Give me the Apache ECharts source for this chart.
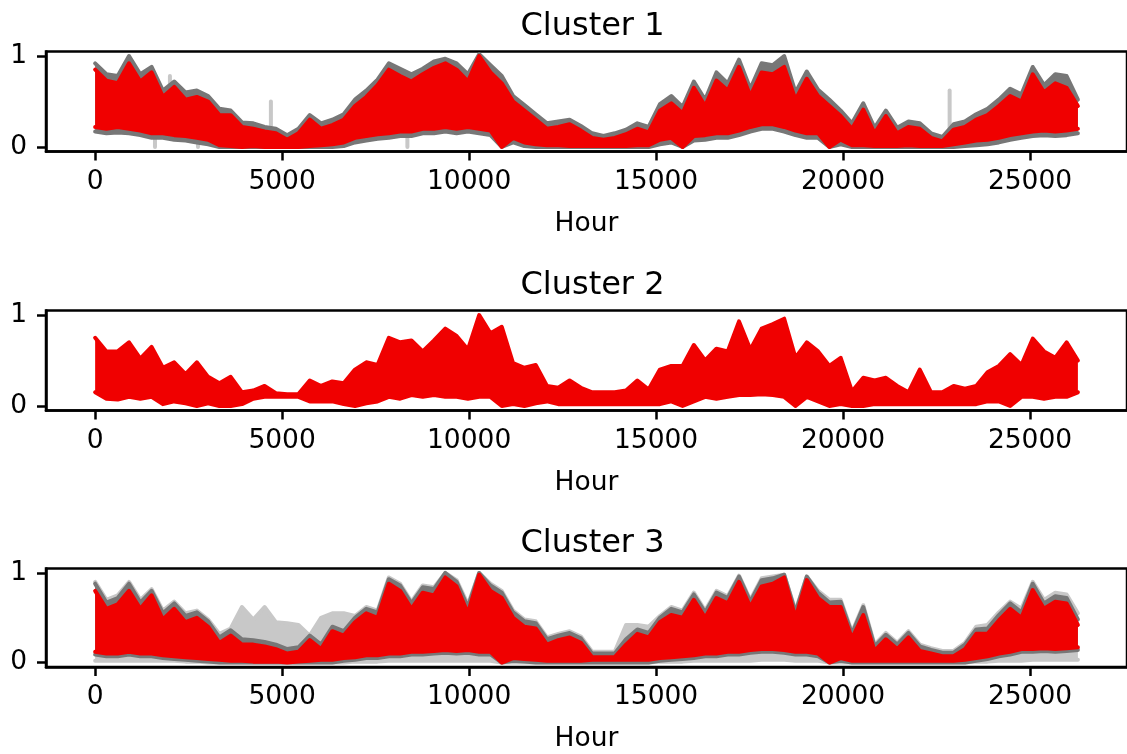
<!DOCTYPE html>
<html>
<head>
<meta charset="utf-8">
<script src="https://cdn.jsdelivr.net/npm/echarts@6/dist/echarts.min.js"></script>
<style>
  html, body { margin: 0; padding: 0; background: #fff; }
  #chart { width: 1127px; height: 754px; }
</style>
</head>
<body>
<div id="chart"></div>
<script>
// Hourly load profiles, summarised per ~302 h bin as the band each curve spans.
const HOURS_TOTAL = 26280;
const titles = ['Cluster 1', 'Cluster 2', 'Cluster 3'];
const xTicks = [0, 5000, 10000, 15000, 20000, 25000];
const yTicks = [0, 1];

// Cluster 1 centroid (upper / lower envelope per bin)
const c1Hi = [
  0.85, 0.73, 0.70, 0.92, 0.72, 0.82, 0.55, 0.66, 0.52, 0.55,
  0.50, 0.35, 0.35, 0.22, 0.20, 0.17, 0.15, 0.08, 0.15, 0.30,
  0.20, 0.24, 0.30, 0.45, 0.55, 0.68, 0.85, 0.78, 0.72, 0.80,
  0.87, 0.92, 0.85, 0.72, 1.00, 0.82, 0.70, 0.50, 0.40, 0.30,
  0.20, 0.22, 0.25, 0.18, 0.10, 0.08, 0.10, 0.14, 0.20, 0.16,
  0.40, 0.48, 0.37, 0.65, 0.45, 0.73, 0.62, 0.88, 0.56, 0.82,
  0.80, 0.88, 0.52, 0.75, 0.56, 0.45, 0.34, 0.20, 0.41, 0.15,
  0.34, 0.15, 0.22, 0.20, 0.10, 0.06, 0.19, 0.22, 0.30, 0.35,
  0.45, 0.56, 0.50, 0.80, 0.60, 0.70, 0.65, 0.45
];
const c1Lo = [
  0.22, 0.20, 0.22, 0.20, 0.18, 0.15, 0.15, 0.13, 0.12, 0.10,
  0.08, 0.02, 0.01, 0.00, 0.01, 0.00, 0.00, 0.00, 0.00, 0.01,
  0.02, 0.03, 0.05, 0.10, 0.12, 0.14, 0.15, 0.17, 0.17, 0.20,
  0.20, 0.22, 0.20, 0.22, 0.20, 0.18, 0.00, 0.10, 0.05, 0.03,
  0.02, 0.02, 0.01, 0.01, 0.01, 0.01, 0.01, 0.01, 0.02, 0.02,
  0.08, 0.10, 0.00, 0.12, 0.13, 0.15, 0.15, 0.18, 0.22, 0.25,
  0.25, 0.22, 0.18, 0.15, 0.15, 0.00, 0.08, 0.02, 0.02, 0.01,
  0.01, 0.01, 0.02, 0.01, 0.01, 0.01, 0.03, 0.05, 0.07, 0.08,
  0.10, 0.13, 0.15, 0.17, 0.18, 0.17, 0.18, 0.20
];
// Cluster 1 members (grey band around the centroid)
const c1GrayHi = [
  0.92, 0.80, 0.78, 1.00, 0.80, 0.88, 0.62, 0.72, 0.60, 0.62,
  0.56, 0.42, 0.40, 0.27, 0.26, 0.22, 0.20, 0.13, 0.20, 0.35,
  0.26, 0.30, 0.36, 0.52, 0.62, 0.74, 0.92, 0.86, 0.80, 0.86,
  0.94, 0.97, 0.92, 0.80, 1.02, 0.90, 0.78, 0.56, 0.46, 0.36,
  0.26, 0.28, 0.30, 0.23, 0.15, 0.12, 0.15, 0.19, 0.26, 0.22,
  0.47, 0.56, 0.44, 0.72, 0.52, 0.82, 0.70, 0.96, 0.64, 0.92,
  0.90, 1.00, 0.60, 0.83, 0.63, 0.52, 0.40, 0.26, 0.48, 0.21,
  0.40, 0.21, 0.28, 0.26, 0.15, 0.11, 0.25, 0.28, 0.36, 0.42,
  0.52, 0.64, 0.58, 0.88, 0.68, 0.80, 0.78, 0.52
];
const c1GrayLo = [
  0.17, 0.15, 0.16, 0.15, 0.13, 0.10, 0.10, 0.08, 0.07, 0.05,
  0.03, 0.00, 0.00, 0.00, 0.00, 0.00, 0.00, 0.00, 0.00, 0.00,
  0.00, 0.00, 0.01, 0.05, 0.07, 0.09, 0.10, 0.12, 0.12, 0.15,
  0.15, 0.17, 0.15, 0.17, 0.15, 0.13, 0.00, 0.05, 0.01, 0.00,
  0.00, 0.00, 0.00, 0.00, 0.00, 0.00, 0.00, 0.00, 0.00, 0.00,
  0.03, 0.05, 0.00, 0.07, 0.08, 0.10, 0.10, 0.13, 0.17, 0.20,
  0.20, 0.17, 0.13, 0.10, 0.10, 0.00, 0.03, 0.00, 0.00, 0.00,
  0.00, 0.00, 0.00, 0.00, 0.00, 0.00, 0.00, 0.01, 0.02, 0.03,
  0.05, 0.08, 0.10, 0.12, 0.13, 0.12, 0.13, 0.15
];
// Isolated member excursions in cluster 1: [hour, low, high]
const c1Spikes = [
  [1600, 0.00, 0.16], [2000, 0.50, 0.78], [2750, 0.00, 0.10],
  [4700, 0.02, 0.50], [8350, 0.00, 0.18], [22850, 0.08, 0.62]
];

// Cluster 2 centroid
const c2Hi = [
  0.75, 0.60, 0.60, 0.70, 0.52, 0.65, 0.42, 0.48, 0.35, 0.48,
  0.32, 0.25, 0.32, 0.15, 0.17, 0.22, 0.14, 0.13, 0.13, 0.28,
  0.22, 0.27, 0.25, 0.40, 0.48, 0.45, 0.75, 0.70, 0.72, 0.60,
  0.72, 0.85, 0.77, 0.62, 1.00, 0.80, 0.87, 0.47, 0.42, 0.45,
  0.22, 0.20, 0.28, 0.20, 0.15, 0.15, 0.15, 0.17, 0.28, 0.18,
  0.40, 0.44, 0.44, 0.67, 0.50, 0.63, 0.60, 0.93, 0.62, 0.85,
  0.90, 0.96, 0.53, 0.70, 0.60, 0.44, 0.53, 0.16, 0.31, 0.28,
  0.31, 0.22, 0.15, 0.40, 0.15, 0.15, 0.22, 0.19, 0.22, 0.37,
  0.44, 0.57, 0.45, 0.74, 0.60, 0.53, 0.70, 0.50
];
const c2Lo = [
  0.15, 0.08, 0.07, 0.10, 0.08, 0.10, 0.02, 0.05, 0.03, 0.00,
  0.03, 0.00, 0.00, 0.02, 0.08, 0.10, 0.10, 0.10, 0.10, 0.05,
  0.05, 0.05, 0.02, 0.00, 0.03, 0.05, 0.10, 0.08, 0.12, 0.10,
  0.12, 0.10, 0.10, 0.08, 0.10, 0.10, 0.00, 0.02, 0.00, 0.03,
  0.05, 0.02, 0.02, 0.02, 0.02, 0.02, 0.02, 0.02, 0.02, 0.02,
  0.02, 0.05, 0.00, 0.05, 0.10, 0.08, 0.10, 0.12, 0.12, 0.13,
  0.12, 0.10, 0.00, 0.10, 0.05, 0.00, 0.02, 0.00, 0.00, 0.02,
  0.02, 0.02, 0.02, 0.02, 0.02, 0.02, 0.02, 0.02, 0.02, 0.05,
  0.05, 0.00, 0.10, 0.10, 0.08, 0.10, 0.10, 0.15
];

// Cluster 3 centroid
const c3Hi = [
  0.80, 0.60, 0.65, 0.80, 0.60, 0.75, 0.48, 0.60, 0.45, 0.50,
  0.40, 0.22, 0.30, 0.20, 0.20, 0.18, 0.15, 0.10, 0.12, 0.25,
  0.15, 0.35, 0.30, 0.45, 0.55, 0.50, 0.88, 0.80, 0.60, 0.78,
  0.75, 0.95, 0.85, 0.55, 0.98, 0.80, 0.72, 0.50, 0.40, 0.38,
  0.20, 0.25, 0.28, 0.22, 0.06, 0.06, 0.06, 0.20, 0.32, 0.28,
  0.45, 0.53, 0.50, 0.70, 0.50, 0.72, 0.66, 0.90, 0.62, 0.85,
  0.88, 0.95, 0.50, 0.92, 0.72, 0.62, 0.62, 0.27, 0.53, 0.13,
  0.26, 0.15, 0.28, 0.13, 0.10, 0.07, 0.07, 0.15, 0.32, 0.32,
  0.47, 0.60, 0.50, 0.81, 0.60, 0.68, 0.66, 0.42
];
const c3Lo = [
  0.12, 0.10, 0.10, 0.12, 0.10, 0.10, 0.08, 0.07, 0.06, 0.05,
  0.04, 0.03, 0.02, 0.02, 0.01, 0.01, 0.01, 0.00, 0.01, 0.02,
  0.03, 0.03, 0.05, 0.06, 0.08, 0.08, 0.10, 0.10, 0.12, 0.12,
  0.13, 0.14, 0.13, 0.14, 0.12, 0.12, 0.00, 0.05, 0.04, 0.03,
  0.02, 0.02, 0.02, 0.02, 0.03, 0.03, 0.03, 0.03, 0.03, 0.03,
  0.05, 0.06, 0.07, 0.08, 0.10, 0.10, 0.12, 0.12, 0.14, 0.15,
  0.15, 0.14, 0.12, 0.12, 0.10, 0.00, 0.05, 0.02, 0.02, 0.02,
  0.02, 0.02, 0.02, 0.02, 0.02, 0.02, 0.02, 0.03, 0.05, 0.07,
  0.10, 0.12, 0.15, 0.15, 0.16, 0.15, 0.16, 0.17
];
// Cluster 3 members: dense core band and the wider outer band
const c3GrayHi = [
  0.88, 0.67, 0.72, 0.88, 0.67, 0.80, 0.55, 0.66, 0.52, 0.56,
  0.46, 0.28, 0.36, 0.26, 0.25, 0.23, 0.20, 0.15, 0.17, 0.30,
  0.20, 0.40, 0.35, 0.50, 0.60, 0.56, 0.93, 0.86, 0.66, 0.84,
  0.82, 1.00, 0.90, 0.62, 1.00, 0.86, 0.78, 0.56, 0.46, 0.44,
  0.26, 0.30, 0.33, 0.27, 0.10, 0.10, 0.10, 0.26, 0.37, 0.33,
  0.50, 0.60, 0.56, 0.76, 0.56, 0.78, 0.72, 0.96, 0.68, 0.92,
  0.94, 0.98, 0.56, 0.96, 0.78, 0.67, 0.68, 0.32, 0.62, 0.18,
  0.31, 0.20, 0.33, 0.18, 0.14, 0.11, 0.11, 0.20, 0.37, 0.38,
  0.53, 0.66, 0.56, 0.88, 0.66, 0.74, 0.72, 0.48
];
const c3GrayLo = [
  0.09, 0.07, 0.07, 0.09, 0.07, 0.07, 0.05, 0.04, 0.03, 0.02,
  0.01, 0.00, 0.00, 0.00, 0.00, 0.00, 0.00, 0.00, 0.00, 0.00,
  0.00, 0.00, 0.02, 0.03, 0.05, 0.05, 0.07, 0.07, 0.09, 0.09,
  0.10, 0.11, 0.10, 0.11, 0.09, 0.09, 0.00, 0.02, 0.01, 0.00,
  0.00, 0.00, 0.00, 0.00, 0.00, 0.00, 0.00, 0.00, 0.00, 0.00,
  0.02, 0.03, 0.04, 0.05, 0.07, 0.07, 0.09, 0.09, 0.11, 0.12,
  0.12, 0.11, 0.09, 0.09, 0.07, 0.00, 0.02, 0.00, 0.00, 0.00,
  0.00, 0.00, 0.00, 0.00, 0.00, 0.00, 0.00, 0.00, 0.02, 0.04,
  0.07, 0.09, 0.12, 0.12, 0.13, 0.12, 0.13, 0.14
];
const c3OuterHi = [
  0.90, 0.70, 0.75, 0.90, 0.70, 0.82, 0.58, 0.68, 0.55, 0.58,
  0.48, 0.32, 0.38, 0.62, 0.48, 0.62, 0.45, 0.44, 0.42, 0.30,
  0.50, 0.55, 0.55, 0.52, 0.62, 0.58, 0.95, 0.88, 0.68, 0.86,
  0.84, 1.00, 0.92, 0.65, 1.00, 0.88, 0.80, 0.58, 0.48, 0.46,
  0.28, 0.32, 0.35, 0.29, 0.12, 0.12, 0.12, 0.42, 0.42, 0.40,
  0.52, 0.62, 0.58, 0.78, 0.58, 0.80, 0.74, 0.97, 0.70, 0.94,
  0.96, 0.98, 0.58, 0.96, 0.80, 0.70, 0.70, 0.34, 0.64, 0.20,
  0.33, 0.22, 0.35, 0.20, 0.16, 0.13, 0.13, 0.22, 0.40, 0.42,
  0.56, 0.68, 0.60, 0.90, 0.70, 0.78, 0.76, 0.55
];
const c3OuterLo = [
  0.02, 0.02, 0.02, 0.02, 0.02, 0.02, 0.02, 0.02, 0.01, 0.01,
  0.00, 0.00, 0.00, 0.00, 0.00, 0.00, 0.00, 0.00, 0.00, 0.00,
  0.00, 0.00, 0.00, 0.01, 0.01, 0.01, 0.02, 0.02, 0.02, 0.02,
  0.02, 0.02, 0.02, 0.02, 0.02, 0.02, 0.00, 0.00, 0.00, 0.00,
  0.00, 0.00, 0.00, 0.00, 0.00, 0.00, 0.00, 0.00, 0.00, 0.00,
  0.01, 0.01, 0.01, 0.02, 0.02, 0.02, 0.02, 0.02, 0.02, 0.03,
  0.03, 0.03, 0.02, 0.02, 0.02, 0.00, 0.00, 0.00, 0.00, 0.00,
  0.00, 0.00, 0.00, 0.00, 0.00, 0.00, 0.00, 0.00, 0.01, 0.01,
  0.02, 0.02, 0.02, 0.03, 0.03, 0.03, 0.03, 0.03
];

const N = c1Hi.length;
const hours = Array.from({ length: N }, (_, i) => Math.round(i * HOURS_TOTAL / (N - 1)));

const RED = '#f00000';
const GREY_DARK = '#777777';
const GREY_LIGHT = '#c8c8c8';
const FONT = 'DejaVu Sans';
const LINE_W = 4;

// A filled band between lo and hi, outlined by the curve's own stroke.
function band(g, hi, lo, color) {
  const data = hours.map((h, i) => [h, lo[i], hi[i]]);
  return {
    type: 'custom', xAxisIndex: g, yAxisIndex: g, silent: true, animation: false,
    data: data,
    encode: { x: 0, y: [1, 2] },
    renderItem: function (params, api) {
      if (params.dataIndex !== 0) return null;
      const top = data.map(d => api.coord([d[0], d[2]]));
      const bot = data.map(d => api.coord([d[0], d[1]]));
      const poly = top.concat(bot.slice().reverse());
      return {
        type: 'group',
        children: [
          { type: 'polygon', shape: { points: poly }, style: { fill: color } },
          { type: 'polyline', shape: { points: top },
            style: { stroke: color, lineWidth: LINE_W, fill: null, lineJoin: 'round', lineCap: 'round' } },
          { type: 'polyline', shape: { points: bot },
            style: { stroke: color, lineWidth: LINE_W, fill: null, lineJoin: 'round', lineCap: 'round' } }
        ]
      };
    }
  };
}

function spikes(g, data, color) {
  return {
    type: 'custom', xAxisIndex: g, yAxisIndex: g, silent: true, animation: false,
    data: data,
    encode: { x: 0, y: [1, 2] },
    renderItem: function (params, api) {
      const a = api.coord([api.value(0), api.value(1)]);
      const b = api.coord([api.value(0), api.value(2)]);
      return { type: 'line', shape: { x1: a[0], y1: a[1], x2: b[0], y2: b[1] },
               style: { stroke: color, lineWidth: LINE_W, lineCap: 'round' } };
    }
  };
}

const gridTops = [51.5, 310.5, 568.5];
const titleTops = [6, 265, 523];

const option = {
  backgroundColor: '#fff',
  animation: false,
  title: titles.map((t, g) => ({
    text: t, left: 587.5, top: titleTops[g], textAlign: 'center',
    textStyle: { fontSize: 32, fontWeight: 'normal', color: '#000', fontFamily: FONT }
  })),
  grid: gridTops.map(t => ({
    left: 46, top: t, width: 1083, height: 100,
    show: true, borderColor: '#000', borderWidth: 2.5, backgroundColor: 'transparent'
  })),
  xAxis: gridTops.map((t, g) => ({
    gridIndex: g, type: 'value', min: -1314, max: 27593,
    axisLine: { show: true, onZero: false, lineStyle: { color: '#000', width: 2.5 } },
    splitLine: { show: false },
    axisTick: { show: true, length: 9, customValues: xTicks, lineStyle: { color: '#000', width: 2.5 } },
    axisLabel: { customValues: xTicks, formatter: v => String(v),
                 fontSize: 26.5, color: '#000', fontFamily: FONT, margin: 17 },
    name: 'Hour', nameLocation: 'middle', nameGap: 59,
    nameTextStyle: { fontSize: 26.5, color: '#000', fontFamily: FONT }
  })),
  yAxis: gridTops.map((t, g) => ({
    gridIndex: g, type: 'value', min: -0.05, max: 1.05,
    axisLine: { show: true, onZero: false, lineStyle: { color: '#000', width: 2.5 } },
    splitLine: { show: false },
    axisTick: { show: true, length: 9, customValues: yTicks, lineStyle: { color: '#000', width: 2.5 } },
    axisLabel: { customValues: yTicks, formatter: v => String(v),
                 fontSize: 26.5, color: '#000', fontFamily: FONT, margin: 19 }
  })),
  series: [
    spikes(0, c1Spikes, GREY_LIGHT),
    band(0, c1GrayHi, c1GrayLo, GREY_DARK),
    band(0, c1Hi, c1Lo, RED),
    band(1, c2Hi, c2Lo, RED),
    band(2, c3OuterHi, c3OuterLo, GREY_LIGHT),
    band(2, c3GrayHi, c3GrayLo, GREY_DARK),
    band(2, c3Hi, c3Lo, RED)
  ]
};

const chart = echarts.init(document.getElementById('chart'), null, { renderer: 'canvas' });
chart.setOption(option);
</script>
</body>
</html>
